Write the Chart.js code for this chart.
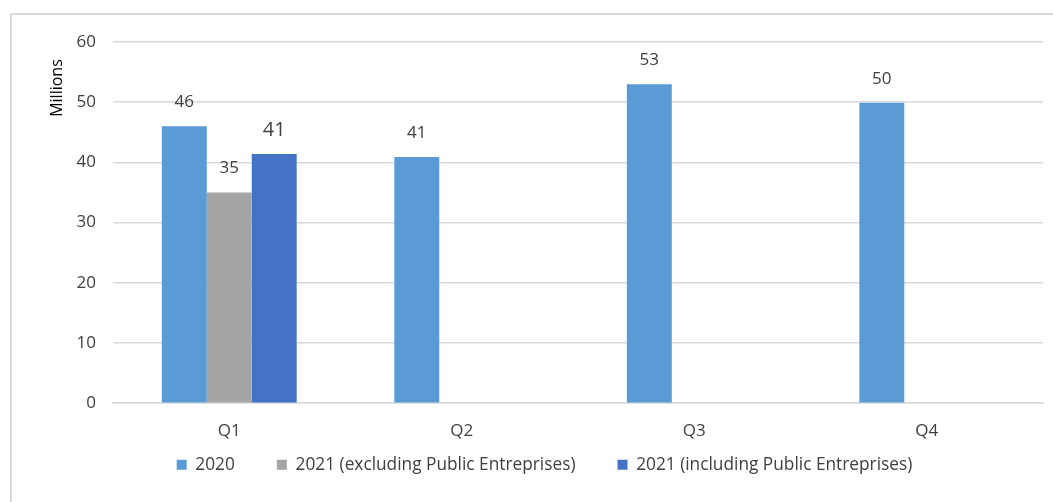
<!DOCTYPE html>
<html>
<head>
<meta charset="utf-8">
<script src="https://cdn.jsdelivr.net/npm/chart.js@4/dist/chart.umd.min.js"></script>
<style>
  html, body { margin: 0; padding: 0; background: #ffffff; }
  #wrap { position: relative; width: 1053px; height: 502px; }
  #frame {
    position: absolute; left: 10px; top: 13px; right: 0; bottom: 0;
    border-top: 2px solid #d9d9d9; border-left: 2px solid #d9d9d9;
    pointer-events: none;
  }
  canvas { position: absolute; left: 0; top: 0; }
</style>
</head>
<body>
<div id="wrap">
  <canvas id="quarterChart" width="1053" height="502"></canvas>
  <div id="frame"></div>
</div>
<script>
const quarters = ["Q1", "Q2", "Q3", "Q4"];
const seriesNames = [
  "2020",
  "2021 (excluding Public Entreprises)",
  "2021 (including Public Entreprises)"
];
const values2020 = [46, 40.9, 53, 49.9];
const values2021Excl = [35, null, null, null];
const values2021Incl = [41.4, null, null, null];
const yTicks = [0, 10, 20, 30, 40, 50, 60];

const colors = ["#5b9bd5", "#a5a5a5", "#4472c4"];
const labelSizes = [17, 17, 20];
const fontFamily = "'Open Sans', sans-serif";
const textColor = "#404040";

// value labels above each bar
const barLabels = {
  id: "barLabels",
  afterDatasetsDraw(chart) {
    const ctx = chart.ctx;
    ctx.save();
    ctx.fillStyle = textColor;
    ctx.textAlign = "center";
    ctx.textBaseline = "middle";
    chart.data.datasets.forEach((ds, i) => {
      const meta = chart.getDatasetMeta(i);
      ctx.font = labelSizes[i] + "px " + fontFamily;
      meta.data.forEach((bar, j) => {
        const v = ds.data[j];
        if (v === null || v === undefined) return;
        ctx.fillText(Math.round(v).toString(), bar.x, bar.y - 24);
      });
    });
    ctx.restore();
  }
};

// rotated unit label near the top of the value axis
const unitLabel = {
  id: "unitLabel",
  afterDraw(chart) {
    const ctx = chart.ctx;
    const area = chart.chartArea;
    ctx.save();
    ctx.translate(area.left - 56, area.top + 46);
    ctx.rotate(-Math.PI / 2);
    ctx.font = "16px " + fontFamily;
    ctx.fillStyle = "#000000";
    ctx.textAlign = "center";
    ctx.textBaseline = "middle";
    ctx.fillText("Millions", 0, 0);
    ctx.restore();
  }
};

// the x band is kept thin so the legend can sit close under the axis;
// let its labels spill down instead of being clipped to the band
const xLabelRoom = {
  id: "xLabelRoom",
  afterLayout(chart) {
    chart.scales.x.bottom = chart.height;
  }
};

const seriesData = [values2020, values2021Excl, values2021Incl];

new Chart(document.getElementById("quarterChart"), {
  type: "bar",
  data: {
    labels: quarters,
    datasets: seriesNames.map((name, i) => ({
      label: name,
      data: seriesData[i],
      backgroundColor: colors[i],
      borderWidth: 0,
      categoryPercentage: 0.58,
      barPercentage: 1
    }))
  },
  options: {
    responsive: false,
    animation: false,
    events: [],
    layout: { padding: { top: 42, right: 10, left: 46, bottom: 18.5 } },
    plugins: {
      legend: {
        position: "bottom",
        labels: {
          color: textColor,
          font: { family: fontFamily, size: 17.3 },
          boxWidth: 10,
          boxHeight: 10,
          padding: 42
        }
      },
      tooltip: { enabled: false }
    },
    scales: {
      x: {
        afterFit(scale) { scale.height = 11; },
        grid: { display: false, drawTicks: false },
        border: { color: "#d9d9d9", width: 1.5 },
        ticks: {
          color: textColor,
          font: { family: fontFamily, size: 17 },
          padding: 18
        }
      },
      y: {
        min: 0,
        max: 60,
        afterFit(scale) { scale.width = 67; },
        afterBuildTicks(scale) {
          scale.ticks = yTicks.map(v => ({ value: v }));
        },
        grid: {
          color: "#d9d9d9",
          lineWidth: 1.5,
          drawTicks: false
        },
        border: { display: false },
        ticks: {
          color: textColor,
          font: { family: fontFamily, size: 17 },
          padding: 17
        }
      }
    }
  },
  plugins: [barLabels, unitLabel, xLabelRoom]
});
</script>
</body>
</html>
